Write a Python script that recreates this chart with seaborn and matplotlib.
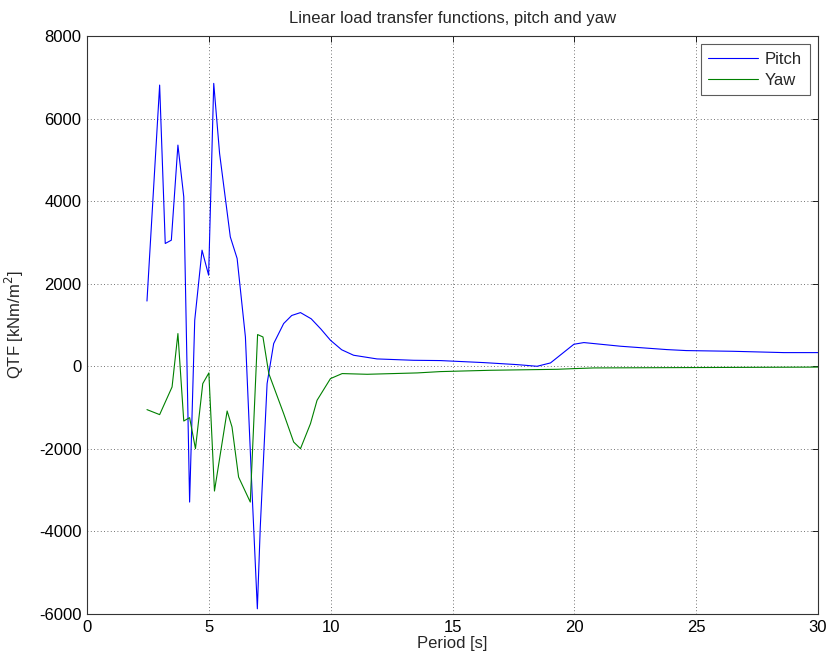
import numpy as np
import pandas as pd
import matplotlib
matplotlib.use("Agg")
import matplotlib.pyplot as plt
import seaborn as sns

# Pitch load transfer function vs. period
pitch_period = [2.46, 2.98, 3.21, 3.46, 3.73, 3.97, 4.21, 4.42, 4.72, 4.99, 5.20,
                5.44, 5.88, 6.16, 6.50, 6.77, 6.99, 7.11, 7.39, 7.66, 8.07, 8.40,
                8.76, 9.20, 9.60, 9.99, 10.45, 10.94, 11.90, 13.40, 14.50, 16.28,
                17.65, 18.47, 19.02, 19.98, 20.39, 21.90, 23.80, 24.60, 26.50,
                28.60, 30.00]
pitch_qtf = [1580, 6811, 2974, 3054, 5357, 4104, -3289, 1115, 2812, 2206, 6852,
             5156, 3134, 2610, 710, -3006, -5874, -3895, -420, 550, 1035, 1230,
             1300, 1150, 900, 630, 400, 267, 178, 145, 138, 89,
             40, 0, 81, 533, 574, 485, 404, 380, 363,
             331, 331]

# Yaw load transfer function vs. period
yaw_period = [2.46, 2.98, 3.49, 3.73, 3.97, 4.21, 4.45, 4.75, 5.00, 5.23, 5.75,
              5.95, 6.22, 6.70, 7.00, 7.22, 7.46, 8.07, 8.48, 8.76, 9.17, 9.44,
              9.99, 10.47, 11.50, 13.55, 14.50, 16.56, 19.30, 19.98, 20.80, 30.00]
yaw_qtf = [-1050, -1171, -501, 792, -1326, -1244, -1996, -420, -161, -3022, -1083,
           -1470, -2683, -3289, 768, 710, -177, -1147, -1835, -1996, -1390, -824,
           -299, -177, -194, -161, -129, -97, -73, -57, -40, -20]

x_ticks = [0, 5, 10, 15, 20, 25, 30]
y_ticks = [-6000, -4000, -2000, 0, 2000, 4000, 6000, 8000]

df = pd.concat([
    pd.DataFrame({"Period": pitch_period, "QTF": pitch_qtf, "Series": "Pitch"}),
    pd.DataFrame({"Period": yaw_period, "QTF": yaw_qtf, "Series": "Yaw"}),
], ignore_index=True)

sns.set_style("white")
plt.rcParams["font.family"] = ["Liberation Sans", "DejaVu Sans"]
plt.rcParams["font.size"] = 12
plt.rcParams["axes.unicode_minus"] = False

fig = plt.figure(figsize=(8.32, 6.65), dpi=100)
ax = fig.add_axes([0.1046, 0.0767, 0.8786, 0.8692])

sns.lineplot(data=df, x="Period", y="QTF", hue="Series", sort=False,
             palette={"Pitch": "#0000ff", "Yaw": "#008000"},
             linewidth=0.8, estimator=None, ax=ax)

ax.set_xlim(0, 30)
ax.set_ylim(-6000, 8000)
ax.set_xticks(x_ticks)
ax.set_yticks(y_ticks)
ax.grid(True, linestyle=(0, (1, 3)), color="#444444", linewidth=0.6)
ax.tick_params(direction="in", length=4, top=True, right=True, pad=4,
               labelsize=12, colors="black", width=0.6)
for s in ax.spines.values():
    s.set_visible(True)
    s.set_color("#333333")
    s.set_linewidth(0.8)

ax.set_xlabel("Period [s]", fontsize=12, labelpad=1)
ax.set_ylabel("QTF [kNm/m$^2$]", fontsize=12, labelpad=9)
ax.set_title("Linear load transfer functions, pitch and yaw", fontsize=12, pad=9)

leg = ax.legend(title=None, loc="upper right", fontsize=12, frameon=True,
                fancybox=False, edgecolor="#333333", handlelength=3.0,
                handletextpad=0.4, borderaxespad=0.5, labelspacing=0.35,
                borderpad=0.45)
leg.get_frame().set_linewidth(0.8)

fig.savefig("out.png", dpi=100)
